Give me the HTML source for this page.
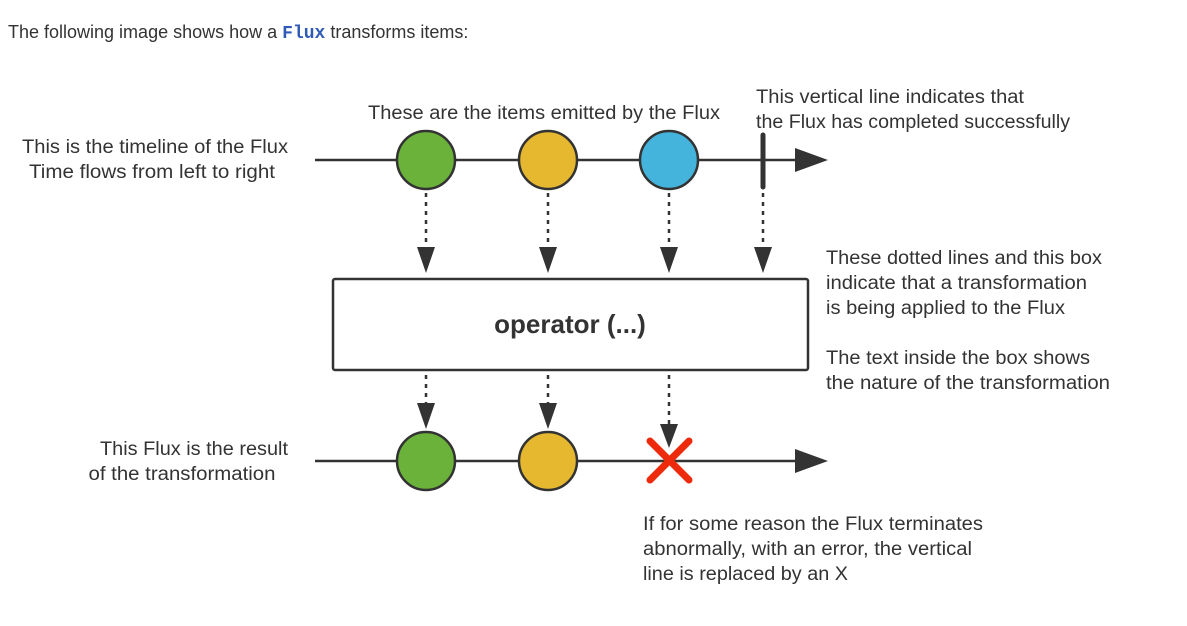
<!DOCTYPE html>
<html><head><meta charset="utf-8"><style>
html,body{margin:0;padding:0;background:#fff;width:1187px;height:626px;overflow:hidden}
svg text{font-family:"Liberation Sans",sans-serif;fill:#333;font-size:19px}
</style></head><body>
<svg width="1187" height="626" xmlns="http://www.w3.org/2000/svg">
<text x="8" y="38" style="font-size:18px;fill:#333">The following image shows how a <tspan style="font-family:'Liberation Mono',monospace;font-weight:bold;fill:#2f5bb7">Flux</tspan> transforms items:</text>

<g>
<line x1="315" y1="160" x2="800" y2="160" stroke="#333" stroke-width="2.5"/>
<polygon points="795,148 828,160 795,172" fill="#333"/>
<line x1="763" y1="135" x2="763" y2="187" stroke="#333" stroke-width="5" stroke-linecap="round"/>
</g>
<circle cx="426" cy="160" r="29" fill="#6ab23a" stroke="#333" stroke-width="2.5"/>
<circle cx="548" cy="160" r="29" fill="#e6b830" stroke="#333" stroke-width="2.5"/>
<circle cx="669" cy="160" r="29" fill="#44b4dc" stroke="#333" stroke-width="2.5"/>

<g stroke="#333" stroke-width="2.5" stroke-dasharray="4,5">
<line x1="426" y1="193" x2="426" y2="248"/>
<line x1="548" y1="193" x2="548" y2="248"/>
<line x1="669" y1="193" x2="669" y2="248"/>
<line x1="763" y1="193" x2="763" y2="248"/>
</g>
<g fill="#333">
<polygon points="417,247 435,247 426,273"/>
<polygon points="539,247 557,247 548,273"/>
<polygon points="660,247 678,247 669,273"/>
<polygon points="754,247 772,247 763,273"/>
</g>

<rect x="333" y="279" width="475" height="91" rx="2" fill="#fff" stroke="#333" stroke-width="2.5"/>
<text x="570" y="333" text-anchor="middle" style="font-size:26px;font-weight:bold;fill:#333">operator (...)</text>

<g stroke="#333" stroke-width="2.5" stroke-dasharray="4,5">
<line x1="426" y1="375" x2="426" y2="404"/>
<line x1="548" y1="375" x2="548" y2="404"/>
<line x1="669" y1="375" x2="669" y2="425"/>
</g>
<g fill="#333">
<polygon points="417,403 435,403 426,429"/>
<polygon points="539,403 557,403 548,429"/>
<polygon points="660,424 678,424 669,448"/>
</g>

<g>
<line x1="315" y1="461" x2="800" y2="461" stroke="#333" stroke-width="2.5"/>
<polygon points="795,449 828,461 795,473" fill="#333"/>
</g>
<circle cx="426" cy="461" r="29" fill="#6ab23a" stroke="#333" stroke-width="2.5"/>
<circle cx="548" cy="461" r="29" fill="#e6b830" stroke="#333" stroke-width="2.5"/>
<g stroke="#ee2a0c" stroke-width="7" stroke-linecap="round">
<line x1="650" y1="441" x2="689" y2="480"/>
<line x1="689" y1="441" x2="650" y2="480"/>
</g>

<text x="155" y="153" text-anchor="middle" textLength="266" lengthAdjust="spacingAndGlyphs">This is the timeline of the Flux</text>
<text x="152" y="178" text-anchor="middle" textLength="246" lengthAdjust="spacingAndGlyphs">Time flows from left to right</text>
<text x="368" y="119" textLength="352" lengthAdjust="spacingAndGlyphs">These are the items emitted by the Flux</text>
<text x="756" y="103" textLength="268" lengthAdjust="spacingAndGlyphs">This vertical line indicates that</text>
<text x="756" y="128" textLength="314" lengthAdjust="spacingAndGlyphs">the Flux has completed successfully</text>
<text x="826" y="264" textLength="276" lengthAdjust="spacingAndGlyphs">These dotted lines and this box</text>
<text x="826" y="289" textLength="261" lengthAdjust="spacingAndGlyphs">indicate that a transformation</text>
<text x="826" y="314" textLength="239" lengthAdjust="spacingAndGlyphs">is being applied to the Flux</text>
<text x="826" y="364" textLength="264" lengthAdjust="spacingAndGlyphs">The text inside the box shows</text>
<text x="826" y="389" textLength="284" lengthAdjust="spacingAndGlyphs">the nature of the transformation</text>
<text x="194" y="455" text-anchor="middle" textLength="188" lengthAdjust="spacingAndGlyphs">This Flux is the result</text>
<text x="182" y="480" text-anchor="middle" textLength="187" lengthAdjust="spacingAndGlyphs">of the transformation</text>
<text x="643" y="530" textLength="340" lengthAdjust="spacingAndGlyphs">If for some reason the Flux terminates</text>
<text x="643" y="555" textLength="329" lengthAdjust="spacingAndGlyphs">abnormally, with an error, the vertical</text>
<text x="643" y="580" textLength="205" lengthAdjust="spacingAndGlyphs">line is replaced by an X</text>
</svg>
</body></html>
